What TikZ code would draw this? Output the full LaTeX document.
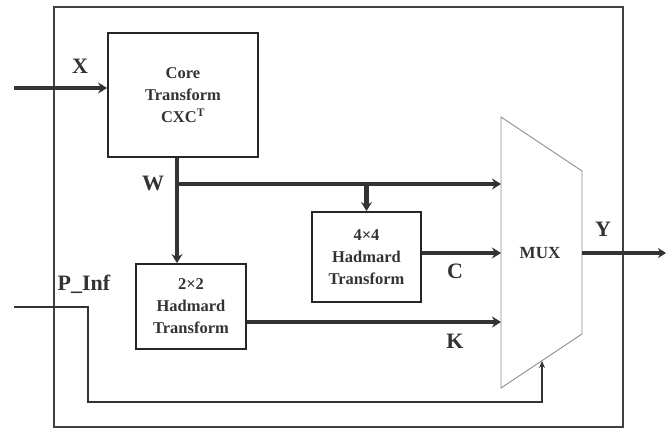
\documentclass[tikz,border=0pt]{standalone}
\usepackage{fontspec}
\setmainfont{Liberation Serif}
\usetikzlibrary{arrows.meta,calc}
\begin{document}
\begin{tikzpicture}[x=1pt,y=-1pt,
  blk/.style={draw=black!85,line width=1.8pt,align=center,inner sep=0pt,
    font=\fontsize{16.5}{22}\selectfont\bfseries,text=black!80},
  bus/.style={line width=4.5pt,draw=black!80,-{Stealth[length=9pt,width=11pt]}},
  busn/.style={line width=4.5pt,draw=black!80},
  lbl/.style={font=\fontsize{22}{24}\selectfont\bfseries,text=black!80,inner sep=0pt},
  ctl/.style={line width=1.4pt,draw=black!80},
  muxl/.style={line width=0.9pt,draw=black!45}]
\useasboundingbox (0,0) rectangle (666,429);
% outer frame
\draw[line width=2pt,draw=black!75] (54,7) rectangle (623,427);
% blocks
\node[blk,minimum width=150pt,minimum height=124pt] (core) at (183,95)
  {Core\\Transform\\CXC\textsuperscript{T}};
\node[blk,minimum width=110pt,minimum height=85pt] (h2) at (191,306.5)
  {2\texttimes 2\\Hadmard\\Transform};
\node[blk,minimum width=109pt,minimum height=90pt] (h4) at (366.5,257)
  {4\texttimes 4\\Hadmard\\Transform};
% MUX
\coordinate (m1) at (501,117);
\coordinate (m2) at (582,171);
\coordinate (m3) at (582,334);
\coordinate (m4) at (501,388);
\draw[muxl] (m1) -- (m2) -- (m3) -- (m4) -- cycle;
\node[font=\fontsize{17}{20}\selectfont\bfseries,text=black!80] (mux) at (540,253) {MUX};
% coordinates
\coordinate (xin) at (14,88);
\coordinate (wj) at (177,184);
\coordinate (wend) at (501,184);
\coordinate (cend) at (501,253);
\coordinate (kend) at (501,322);
\coordinate (yout) at (666,253);
\coordinate (pin) at (14,307);
\coordinate (pc1) at (88,307);
\coordinate (pc2) at (88,402);
\coordinate (pc3) at (542,402);
\coordinate (pend) at (542,361);
% connectors
\draw[bus,line width=3.5pt] (xin) -- (xin -| core.west);
\draw[busn] (core.south -| wj) -- (wj);
\draw[bus] (wj) -- (wj |- h2.north);
\draw[bus] ([xshift=-2.25pt]wj) -- (wend);
\draw[bus] (wj -| h4.north) -- (h4.north);
\draw[bus] (cend -| h4.east) -- (cend);
\draw[bus] (kend -| h2.east) -- (kend);
\draw[busn,line width=3.5pt,-{Stealth[length=8pt,width=10pt]}] (m2 |- yout) -- (yout);
\draw[ctl,-{Stealth[length=7pt,width=6pt]}] (pin) -- (pc1) -- (pc2) -- (pc3) -- (pend);
% labels
\node[lbl] (lx) at (80,66) {X};
\node[lbl] (lw) at (153,183) {W};
\node[lbl] (lp) at (84,284) {P\_Inf};
\node[lbl] (ly) at (603,229) {Y};
\node[lbl] (lc) at (455,271) {C};
\node[lbl] (lk) at (455,341) {K};
\end{tikzpicture}
\end{document}
